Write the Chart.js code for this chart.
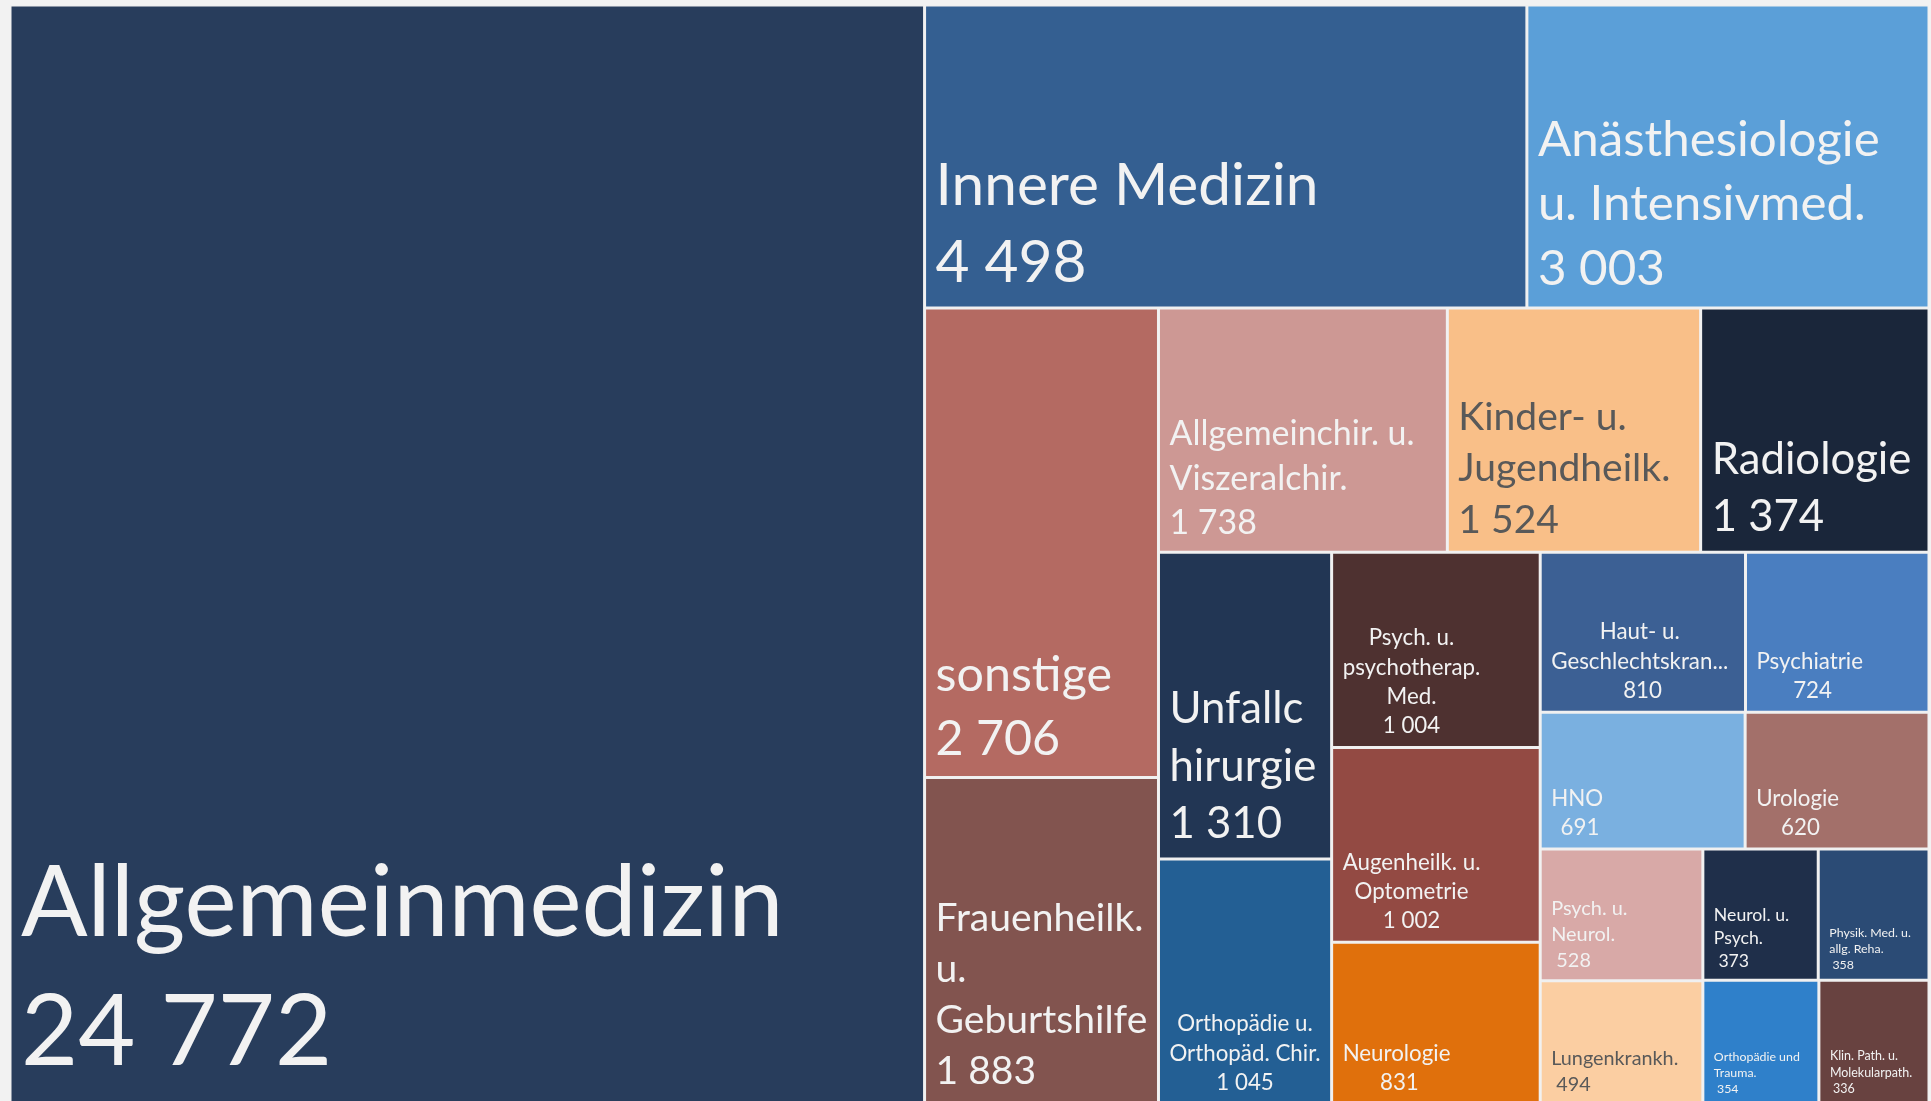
<!DOCTYPE html>
<html>
<head>
<meta charset="utf-8">
<script src="https://cdn.jsdelivr.net/npm/chart.js@4.4.1/dist/chart.umd.min.js"></script>
<style>
html,body{margin:0;padding:0;background:#F2F2F2;overflow:hidden;}
canvas{display:block;}
</style>
</head>
<body>
<canvas id="c" width="1931" height="1104"></canvas>
<script>
// ---------------- data ----------------
const categories = [
  'Allgemeinmedizin', 'Innere Medizin', 'Anästhesiologie u. Intensivmed.', 'sonstige',
  'Frauenheilk. u. Geburtshilfe', 'Allgemeinchir. u. Viszeralchir.', 'Kinder- u. Jugendheilk.',
  'Radiologie', 'Unfallchirurgie', 'Orthopädie u. Orthopäd. Chir.', 'Psych. u. psychotherap. Med.',
  'Augenheilk. u. Optometrie', 'Neurologie', 'Haut- u. Geschlechtskran...', 'Psychiatrie', 'HNO',
  'Urologie', 'Psych. u. Neurol.', 'Lungenkrankh.', 'Neurol. u. Psych.', 'Physik. Med. u. allg. Reha.',
  'Orthopädie und Trauma.', 'Klin. Path. u. Molekularpath.'
];
const values = [24772, 4498, 3003, 2706, 1883, 1738, 1524, 1374, 1310, 1045, 1004, 1002, 831, 810, 724, 691, 620, 528, 494, 373, 358, 354, 336];

// ---------------- styles ----------------
const cellColors = ['#283D5C', '#345F91', '#5B9FD8', '#B46A62', '#82544F', '#CD9894', '#F9BF88', '#1A263A',
  '#223654', '#235F94', '#4E3130', '#934A43', '#E0700C', '#3C6094', '#4A7EC0', '#7AB0E0', '#A3706A',
  '#D8A9A7', '#FBCEA2', '#1F2F4A', '#2B4B75', '#2F80CA', '#684240'];
const labelSizes = [106, 63, 53, 52, 42, 36.5, 42, 47, 47, 24, 24, 24, 24, 24, 24, 24, 24, 21.4, 21.3, 19, 13.3, 13.3, 13.4];
const labelColors = categories.map((c, i) => (i === 6 || i === 18) ? '#595959' : '#F2F2F2');
const labelAlign = categories.map((c, i) => (i >= 9 && i <= 16) ? 'center' : 'left');
const FONT_FAMILY = 'Lato';
const FONT_SCALE = 0.93;

function fmtValue(v) {
  const s = String(v);
  return v >= 1000 ? s.slice(0, -3) + ' ' + s.slice(-3) : ' ' + s;
}

// strip-based squarified layout, in a W x H box
function layoutTreemap(vals, W, H) {
  const total = vals.reduce((a, b) => a + b, 0);
  const k = W * H / total;
  const rects = new Array(vals.length);
  let x = 0, y = 0, w = W, h = H, i = 0;
  const aspect = (v, sum, len) => { const t = sum * k / len; const e = v * k / t; return Math.max(t / e, e / t); };
  while (i < vals.length) {
    const vertical = w >= h;
    const len = vertical ? h : w;
    let j = i + 1, sum = vals[i];
    let last = aspect(vals[i], sum, len);
    while (j < vals.length) {
      const a = aspect(vals[j], sum + vals[j], len);
      if (a > last) break;
      last = a; sum += vals[j]; j++;
    }
    const t = sum * k / len;
    let off = 0;
    for (let m = i; m < j; m++) {
      const e = vals[m] * k / t;
      rects[m] = vertical
        ? { x0: x, y0: y + off, x1: x + t, y1: y + off + e }
        : { x0: x + off, y0: y, x1: x + off + e, y1: y + t };
      off += e;
    }
    if (vertical) { x += t; w -= t; } else { y += t; h -= t; }
    i = j;
  }
  return rects.map(r => ({ x0: r.x0 / W, x1: r.x1 / W, y0: r.y0 / H, y1: r.y1 / H }));
}

function wrapText(ctx, text, maxW) {
  const words = text.split(' ');
  const lines = [];
  let cur = '';
  for (const w of words) {
    const test = cur ? cur + ' ' + w : w;
    if (!cur || ctx.measureText(test).width <= maxW) cur = test;
    else { lines.push(cur); cur = w; }
  }
  if (cur) lines.push(cur);
  const out = [];
  for (const l of lines) {
    if (ctx.measureText(l).width <= maxW) { out.push(l); continue; }
    let s = '';
    for (const ch of l) {
      if (s && ctx.measureText(s + ch).width > maxW) { out.push(s); s = ch; }
      else s += ch;
    }
    if (s) out.push(s);
  }
  return out;
}

class TreemapController extends Chart.DatasetController {
  update(mode) {
    const meta = this._cachedMeta;
    this.updateElements(meta.data, 0, meta.data.length, mode);
  }
  updateElements(rects, start, count, mode) {
    const meta = this._cachedMeta;
    const xs = meta.xScale, ys = meta.yScale;
    const vals = this.getDataset().data;
    const cells = layoutTreemap(vals, xs.width, ys.height);
    for (let i = start; i < start + count; i++) {
      const c = cells[i];
      const left = xs.getPixelForValue(c.x0), right = xs.getPixelForValue(c.x1);
      const top = ys.getPixelForValue(c.y0), bottom = ys.getPixelForValue(c.y1);
      const props = {
        x: (left + right) / 2, y: top, base: bottom, width: right - left, height: bottom - top,
        horizontal: false, inflateAmount: 0,
        borderSkipped: { top: false, bottom: false, left: false, right: false },
        options: this.resolveDataElementOptions(i, mode)
      };
      this.updateElement(rects[i], i, props, mode);
    }
  }
  draw() {
    super.draw();
    const ctx = this.chart.ctx;
    const meta = this._cachedMeta;
    const ds = this.getDataset();
    const labels = this.chart.data.labels;
    meta.data.forEach((el, i) => {
      const left = el.x - el.width / 2, right = el.x + el.width / 2, top = el.y, bottom = el.base;
      const cs = ds.labelSizes[i];
      const fs = cs * FONT_SCALE;
      ctx.save();
      ctx.beginPath(); ctx.rect(left, top, right - left, bottom - top); ctx.clip();
      ctx.font = fs + 'px ' + FONT_FAMILY;
      const pad = 11;
      const lines = wrapText(ctx, labels[i], right - left - 2 * pad + 4);
      lines.push(fmtValue(ds.data[i]));
      const widths = lines.map(l => ctx.measureText(l).width);
      const blockW = Math.max(...widths);
      const lh = cs * 1.22;
      const baseY = bottom - (7 + 0.3 * cs);
      ctx.fillStyle = ds.labelColors[i];
      ctx.textAlign = 'left';
      ctx.textBaseline = 'alphabetic';
      lines.forEach((l, j) => {
        const yy = baseY - (lines.length - 1 - j) * lh;
        const xx = ds.labelAlign[i] === 'center' ? left + pad + (blockW - widths[j]) / 2 : left + pad;
        ctx.fillText(l, xx, yy);
      });
      ctx.restore();
    });
  }
}
TreemapController.id = 'treemap';
TreemapController.defaults = { datasetElementType: false, dataElementType: 'bar' };
Chart.register(TreemapController);

const chart = new Chart(document.getElementById('c'), {
  type: 'treemap',
  data: {
    labels: categories,
    datasets: [{
      data: values,
      backgroundColor: cellColors,
      borderColor: '#F0F0F0',
      borderWidth: 1.5,
      borderSkipped: false,
      labelSizes: labelSizes,
      labelColors: labelColors,
      labelAlign: labelAlign
    }]
  },
  options: {
    responsive: false,
    animation: false,
    events: [],
    layout: { padding: { left: 10, top: 5, right: 2, bottom: 0 } },
    scales: {
      x: { type: 'linear', min: 0, max: 1, display: false },
      y: { type: 'linear', min: 0, max: 1, reverse: true, display: false }
    },
    plugins: { legend: { display: false }, tooltip: { enabled: false } }
  }
});
if (document.fonts && document.fonts.load) {
  document.fonts.load('40px ' + FONT_FAMILY).then(() => chart.update()).catch(() => {});
}
</script>
</body>
</html>
